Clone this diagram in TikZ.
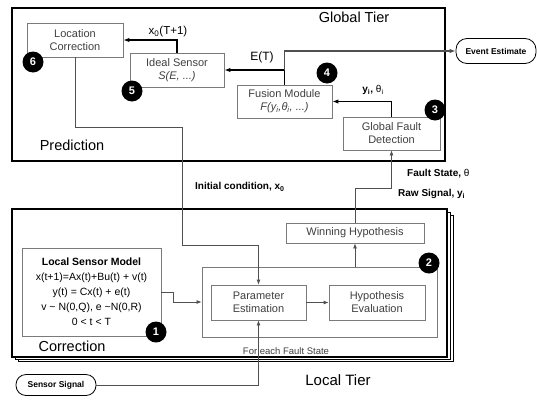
\documentclass[tikz,border=0pt]{standalone}
\usepackage{fontspec}
\setmainfont{Liberation Sans}
\usetikzlibrary{arrows.meta}
\definecolor{boxgray}{HTML}{7A7A7A}
\definecolor{txtgray}{HTML}{404040}
\definecolor{linegray}{HTML}{505050}
\begin{document}
\begin{tikzpicture}[x=1pt,y=-1pt,
  fsz/.style={font=\fontsize{#1}{#1}\selectfont},
  box/.style={draw=boxgray, line width=0.8pt, fill=white, text=txtgray, align=center, inner sep=0pt,
     font=\fontsize{11}{13}\selectfont},
  num/.style={circle, fill=black, text=white, inner sep=0pt, minimum size=21pt,
     font=\fontsize{11}{13}\selectfont\bfseries},
  tier/.style={line width=2pt, fill=white},
  garrow/.style={line width=1.2pt, -{Latex[length=6pt,width=4.5pt]}},
  larrow/.style={draw=linegray, line width=0.8pt, -{Latex[length=5pt,width=4pt]}},
  lbl/.style={inner sep=0pt, font=\fontsize{10}{12}\selectfont\bfseries},
  pill/.style={draw=black, line width=0.8pt, rounded corners=11pt, fill=white, inner sep=0pt,
     font=\fontsize{8.5}{10}\selectfont\bfseries}
]
\useasboundingbox (0,0) rectangle (537,399);

% ---- Global tier frame
\draw[tier] (12,8) rectangle (445,161);
\node[fsz=14.5, inner sep=0pt] (gtitle) at (354,17) {Global Tier};
\node[fsz=14.5, inner sep=0pt] (pred) at (72,145) {Prediction};

% ---- Local tier frames (stacked)
\draw[line width=0.7pt, fill=white] (18,215) rectangle (453,361.5);
\draw[line width=0.7pt, fill=white] (15,212) rectangle (450,359);
\draw[tier] (12,209) rectangle (447,356.5);
\node[fsz=14.5, inner sep=0pt] (corr) at (72,346) {Correction};
\node[fsz=15, inner sep=0pt] (ltitle) at (338,380) {Local Tier};

% ---- Global tier boxes
\node[box, minimum width=96pt, minimum height=34pt] (loc) at (75,40) {Location\\Correction};
\node[box, minimum width=94pt, minimum height=34pt] (ideal) at (177,70) {Ideal Sensor\\\textit{S(E, ...)}};
\node[box, minimum width=95pt, minimum height=33pt] (fusion) at (284.5,101.5) {Fusion Module\\\textit{F(y\textsubscript{i},θ\textsubscript{i}, ...)}};
\node[box, minimum width=97pt, minimum height=33pt] (gfd) at (391.5,133.5) {Global Fault\\Detection};

% ---- Local tier boxes
\node[box, text=black, minimum width=139pt, minimum height=88pt, font=\fontsize{10.5}{15}\selectfont] (lsm) at (91.5,292)
  {\textbf{Local Sensor Model}\\x(t+1)=Ax(t)+Bu(t) + v(t)\\y(t) = Cx(t) + e(t)\\v \textasciitilde{} N(0,Q), e \textasciitilde{}N(0,R)\\0 < t < T};
\node[box, minimum width=235pt, minimum height=70pt] (group) at (319.5,302) {};
\node[box, minimum width=95pt, minimum height=35pt] (param) at (258.5,302.5) {Parameter\\Estimation};
\node[box, minimum width=96pt, minimum height=35pt] (hyp) at (377,302.5) {Hypothesis\\Evaluation};
\node[box, minimum width=138pt, minimum height=20pt] (win) at (355,233) {Winning Hypothesis};

% ---- terminals
\node[pill, minimum width=80pt, minimum height=25pt] (event) at (496,51) {Event Estimate};
\node[pill, minimum width=80pt, minimum height=21pt, rounded corners=10pt] (sensor) at (56,385) {Sensor Signal};

% ---- numbered circles
\node[num] (n6) at (33,62) {6};
\node[num] (n5) at (132,91) {5};
\node[num] (n4) at (327,73) {4};
\node[num] (n3) at (435,110) {3};
\node[num] (n2) at (429,263) {2};
\node[num] (n1) at (156,332) {1};

% ---- labels
\node[inner sep=0pt, fsz=11.5] (lx0) at (168,32) {x\textsubscript{0}(T+1)};
\node[inner sep=0pt, fsz=12] (let) at (262,57) {E(T)};
\node[lbl] (lyi) at (373,90) {y\textsubscript{i}, \mdseries θ\textsubscript{i}};
\node[lbl, anchor=west] (linit) at (195,187) {Initial condition, x\textsubscript{0}};
\node[lbl, anchor=west] (lfault) at (407,174) {Fault State, \mdseries θ};
\node[lbl, anchor=west] (lraw) at (398,194) {Raw Signal, y\textsubscript{i}};

% ---- global connectors
\draw[garrow] (ideal.north) |- (loc.east);
\coordinate (jE) at (fusion.north |- ideal.east);
\draw[garrow] (jE) -- (ideal.east);
\draw[line width=1.2pt, -{Latex[length=6pt,width=4.5pt]}, draw=linegray] (fusion.north) |- (event.west);
\draw[line width=1.2pt] (fusion.north) -- (jE);
\draw[garrow] (gfd.north) |- (fusion.east);

% ---- connectors between tiers
\coordinate (p1) at (75,127);
\coordinate (p2) at (182,127);
\coordinate (p3) at (182,245);
\draw[larrow] (loc.south) -- (p1) -- (p2) -- (p3) -| (param.north);
\coordinate (q1) at (355,188);
\draw[larrow] (win.north) -- (q1) -| (gfd.south);

% ---- local connectors
\draw[larrow] (win.south |- group.north) -- (win.south);
\draw[larrow] (param) -- (hyp);
\coordinate (r1) at (173,292);
\coordinate (r2) at (173,302);
\draw[larrow] (lsm.east |- r1) -- (r1) -- (r2) -- (group.west);
\draw[larrow] (sensor.east) -| (param.south);
\node[inner sep=0pt, text=txtgray, fsz=9.5] (foreach) at (286,351) {For each Fault State};
\end{tikzpicture}
\end{document}
